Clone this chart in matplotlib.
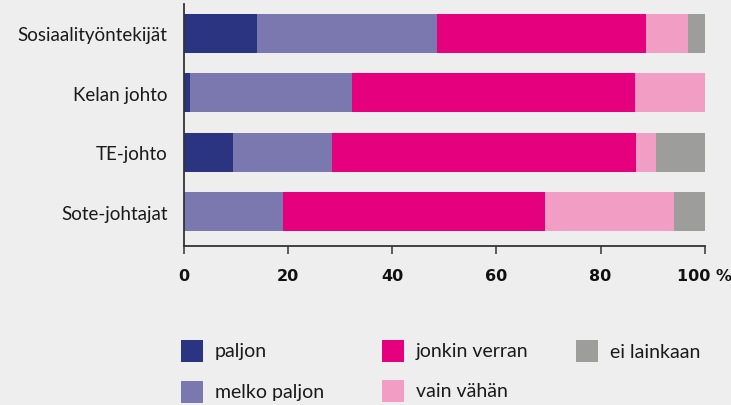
import matplotlib.pyplot as plt
from matplotlib.patches import Rectangle

# Vastaajaryhmät ja vastausten osuudet (%)
groups = ["Sosiaalityöntekijät", "Kelan johto", "TE-johto", "Sote-johtajat"]
paljon = [13.9, 1.1, 9.4, 0.0]
melko_paljon = [34.7, 31.2, 18.9, 18.9]
jonkin_verran = [40.1, 54.3, 58.5, 50.5]
vain_vahan = [8.1, 13.4, 3.8, 24.7]
ei_lainkaan = [3.2, 0.0, 9.4, 5.9]

series = [
    ("paljon", paljon, "#2b3481"),
    ("melko paljon", melko_paljon, "#7b78b0"),
    ("jonkin verran", jonkin_verran, "#e5007d"),
    ("vain vähän", vain_vahan, "#f29ec4"),
    ("ei lainkaan", ei_lainkaan, "#9d9d9c"),
]
x_ticks = [0, 20, 40, 60, 80, 100]
x_labels = ["0", "20", "40", "60", "80", "100 %"]

bg = "#eeeeee"
plt.rcParams["font.family"] = ["Lato", "DejaVu Sans"]

fig = plt.figure(figsize=(7.31, 4.06), dpi=100, facecolor=bg)
ax = fig.add_axes([0.252, 0.392, 0.712, 0.596], facecolor=bg)

y = list(range(len(groups)))
left = [0.0] * len(groups)
for name, vals, color in series:
    ax.barh(y, vals, left=left, height=0.655, color=color, linewidth=0)
    left = [a + b for a, b in zip(left, vals)]

ax.set_xlim(0, 100)
ax.set_ylim(3.57, -0.49)
ax.set_yticks(y)
ax.set_yticklabels(groups, fontsize=13.5, color="#1a1a1a")
ax.tick_params(axis="y", length=0, pad=12)
ax.set_xticks(x_ticks)
ax.set_xticklabels(x_labels)
for lbl in ax.get_xticklabels():
    lbl.set_fontfamily("DejaVu Sans")
    lbl.set_fontweight("bold")
    lbl.set_fontsize(11.5)
    lbl.set_color("#111111")
ax.tick_params(axis="x", direction="out", length=6, width=1.1, color="#333333", pad=10)

for side in ["top", "right"]:
    ax.spines[side].set_visible(False)
for side in ["left", "bottom"]:
    ax.spines[side].set_color("#333333")
    ax.spines[side].set_linewidth(1.3)

# Selite kolmessa sarakkeessa
W, H = 731.0, 406.0
legend_pos = [(181, 341), (181, 382), (382, 341), (382, 381), (576, 341)]
for (name, vals, color), (px, py) in zip(series, legend_pos):
    fig.add_artist(Rectangle((px / W, 1 - (py + 22) / H), 22 / W, 22 / H,
                             transform=fig.transFigure, color=color, lw=0))
    fig.text((px + 34) / W, 1 - (py + 11) / H, name, fontsize=14,
             color="#1a1a1a", va="center", ha="left")

fig.savefig("out.png", dpi=100, facecolor=bg)
